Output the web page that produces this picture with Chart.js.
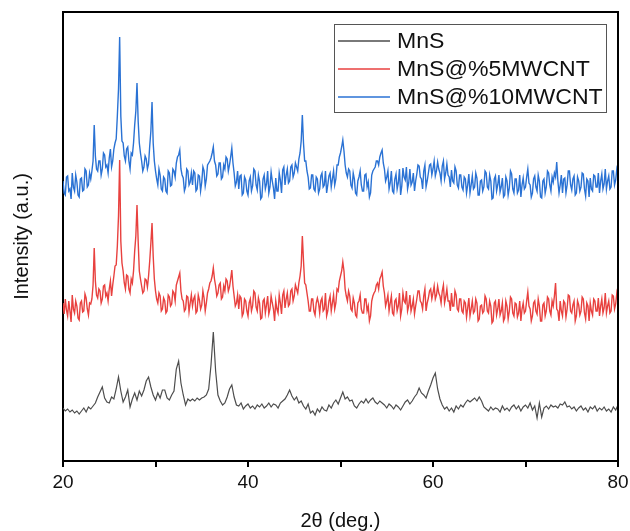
<!DOCTYPE html>
<html>
<head>
<meta charset="utf-8">
<script src="https://cdn.jsdelivr.net/npm/chart.js@4/dist/chart.umd.min.js"></script>
<style>
  html, body { margin: 0; padding: 0; background: #fff; }
  #wrap { width: 630px; height: 531px; }
</style>
</head>
<body>
<div id="wrap"><canvas id="xrdChart" width="630" height="531"></canvas></div>
<script>
// 2theta grids start at 20 deg; MnS read every 0.25 deg, composites every 0.125 deg
const startAngle = 20;
const mnSStep = 0.25;
const compositeStep = 0.125;
const xTickLabels = [20, 40, 60, 80];
const seriesNames = ['MnS', 'MnS@%5MWCNT', 'MnS@%10MWCNT'];

// intensities (a.u., stacking offsets already in the values)
const mnS = [
  53, 50, 52, 49,  51, 48, 50, 47,  50, 53, 49, 54,  52, 55, 58, 64,
  69, 74, 63, 59,  58, 64, 62, 72,  84, 70, 59, 64,  71, 54, 62, 68,
  61, 70, 65, 71,  80, 84, 74, 66,  61, 68, 63, 71,  71, 63, 61, 66,
  70, 92, 100, 78, 66, 56, 62, 60,  62, 60, 63, 61,  63, 64, 66, 72,
  96, 129, 90, 66, 60, 56, 58, 64,  72, 76, 64, 56,  55, 58, 52, 55,
  57, 53, 55, 52,  56, 54, 57, 53,  55, 58, 54, 57,  56, 53, 58, 60,
  62, 66, 71, 65,  61, 64, 58, 60,  55, 52, 57, 48,  50, 46, 52, 49,
  54, 51, 50, 56,  53, 58, 61, 57,  63, 69, 62, 64,  60, 61, 55, 53,
  57, 60, 58, 62,  58, 61, 63, 59,  57, 60, 58, 56,  53, 57, 55, 52,
  56, 54, 51, 55,  59, 61, 57, 60,  64, 67, 73, 68,  66, 63, 70, 76,
  83, 88, 72, 62,  56, 52, 54, 50,  53, 49, 55, 52,  56, 54, 58, 61,
  59, 61, 63, 60,  64, 60, 54, 52,  50, 54, 51, 53,  52, 49, 55, 51,
  53, 50, 54, 56,  52, 55, 50, 54,  56, 53, 58, 51,  55, 43, 58, 44,
  53, 55, 52, 56,  54, 55, 53, 57,  56, 59, 54, 55,  52, 54, 50, 53,
  55, 51, 53, 49,  54, 52, 55, 50,  53, 51, 54, 50,  52, 49, 54, 51,
  56
];

const mnS5 = [
  158, 147, 162, 151, 145, 160, 150, 139,  166, 152, 148, 160, 155, 143, 141, 158,
  160, 149, 150, 167, 163, 152, 146, 158,  157, 162, 176, 213, 180, 166, 163, 172,
  170, 158, 162, 175, 176, 165, 168, 160,  172, 180, 165, 176, 185, 195, 196, 215,
  245, 301, 220, 198, 190, 178, 172, 186,  185, 172, 168, 182, 178, 190, 210, 225,
  256, 220, 190, 182, 175, 168, 170, 182,  181, 174, 185, 200, 218, 238, 205, 182,
  170, 162, 158, 168, 165, 150, 152, 163,  160, 148, 150, 166, 164, 155, 157, 170,
  168, 160, 176, 180, 184, 188, 170, 162,  160, 150, 152, 165, 164, 149, 158, 166,
  155, 162, 165, 148, 150, 166, 161, 152,  156, 170, 163, 150, 158, 168, 172, 178,
  180, 185, 193, 182, 175, 165, 168, 176,  178, 162, 164, 175, 170, 182, 180, 170,
  174, 182, 191, 175, 165, 155, 158, 166,  152, 165, 163, 145, 148, 162, 160, 150,
  145, 158, 162, 150, 155, 170, 168, 154,  150, 163, 158, 142, 143, 160, 162, 148,
  156, 165, 147, 152, 165, 158, 152, 140,  160, 152, 148, 166, 158, 147, 166, 170,
  153, 162, 168, 155, 157, 170, 172, 160,  165, 176, 172, 168, 178, 185, 195, 225,
  200, 178, 176, 168, 160, 150, 150, 162,  162, 150, 146, 158, 163, 158, 148, 160,
  163, 150, 152, 168, 145, 150, 160, 165,  150, 158, 166, 152, 158, 172, 170, 180,
  185, 190, 199, 190, 172, 165, 160, 170,  165, 152, 150, 163, 158, 146, 144, 158,
  160, 166, 152, 148, 148, 162, 162, 150,  155, 140, 145, 160, 165, 168, 170, 176,
  178, 172, 182, 185, 189, 175, 168, 155,  160, 166, 150, 158, 165, 148, 146, 160,
  162, 150, 155, 168, 145, 152, 168, 160,  158, 170, 150, 155, 166, 150, 155, 162,
  147, 155, 162, 170, 170, 160, 158, 152,  165, 172, 150, 158, 163, 170, 172, 162,
  168, 175, 162, 166, 175, 168, 165, 158,  170, 176, 158, 164, 172, 160, 160, 150,
  168, 155, 155, 170, 166, 152, 150, 162,  162, 150, 148, 160, 158, 144, 153, 163,
  145, 152, 160, 148, 150, 162, 158, 140,  142, 155, 156, 148, 150, 165, 162, 150,
  148, 160, 155, 138, 140, 158, 160, 146,  152, 162, 146, 150, 158, 140, 143, 160,
  155, 142, 150, 164, 162, 148, 145, 158,  157, 144, 148, 160, 140, 152, 158, 148,
  150, 160, 169, 155, 152, 140, 145, 158,  160, 150, 147, 162, 155, 140, 140, 156,
  158, 145, 150, 164, 162, 150, 146, 160,  155, 165, 178, 152, 150, 140, 160, 150,
  145, 160, 158, 144, 152, 166, 165, 150,  148, 156, 160, 140, 145, 160, 156, 146,
  150, 164, 162, 148, 142, 158, 155, 140,  158, 150, 146, 162, 160, 150, 150, 163,
  145, 155, 162, 148, 153, 168, 148, 155,  160, 148, 150, 166, 165, 152, 157, 168,
  162
];

const mnS10 = [
  280, 268, 266, 284, 285, 270, 272, 262,  288, 274, 270, 286, 279, 266, 264, 282,
  283, 270, 271, 292, 290, 274, 276, 288,  282, 290, 300, 336, 305, 292, 290, 300,
  300, 286, 292, 308, 306, 294, 296, 288,  303, 312, 294, 300, 312, 318, 322, 345,
  372, 424, 345, 320, 318, 305, 300, 312,  314, 300, 292, 308, 306, 318, 336, 350,
  378, 340, 318, 308, 300, 290, 294, 305,  302, 292, 297, 315, 330, 359, 318, 300,
  290, 282, 276, 292, 286, 272, 270, 284,  282, 270, 268, 290, 288, 275, 276, 292,
  290, 284, 298, 304, 306, 311, 292, 286,  283, 270, 274, 292, 290, 276, 279, 288,
  276, 290, 288, 270, 272, 286, 285, 270,  279, 294, 290, 275, 282, 296, 298, 300,
  303, 308, 314, 300, 296, 285, 287, 298,  298, 282, 284, 296, 292, 304, 302, 290,
  296, 304, 313, 298, 288, 275, 279, 290,  272, 285, 286, 266, 268, 284, 281, 270,
  266, 280, 284, 270, 275, 292, 290, 276,  271, 286, 280, 262, 264, 282, 286, 272,
  277, 290, 268, 274, 289, 280, 273, 262,  283, 270, 270, 288, 281, 268, 291, 294,
  276, 286, 292, 278, 280, 294, 296, 284,  288, 298, 294, 290, 302, 308, 320, 346,
  318, 300, 300, 290, 284, 272, 273, 286,  286, 272, 270, 284, 282, 268, 272, 285,
  288, 274, 276, 290, 268, 276, 285, 288,  274, 282, 290, 276, 282, 296, 296, 304,
  308, 314, 321, 310, 296, 288, 284, 292,  290, 276, 273, 288, 282, 268, 266, 280,
  284, 290, 276, 270, 270, 286, 287, 274,  279, 264, 268, 286, 290, 292, 294, 300,
  300, 296, 304, 308, 311, 298, 292, 280,  284, 290, 272, 278, 290, 270, 268, 282,
  287, 272, 278, 292, 266, 275, 293, 284,  281, 294, 272, 278, 292, 276, 279, 288,
  270, 280, 287, 296, 295, 284, 282, 272,  290, 296, 274, 280, 288, 296, 297, 286,
  292, 300, 285, 290, 299, 292, 288, 280,  295, 300, 282, 288, 297, 286, 284, 274,
  291, 280, 278, 294, 290, 276, 273, 286,  286, 274, 271, 284, 282, 268, 276, 287,
  268, 276, 285, 272, 274, 288, 283, 266,  266, 280, 281, 270, 274, 290, 288, 274,
  272, 286, 280, 262, 263, 282, 285, 270,  276, 286, 269, 274, 283, 264, 266, 284,
  280, 266, 273, 290, 287, 272, 268, 282,  282, 268, 271, 286, 264, 276, 283, 272,
  274, 284, 292, 278, 276, 264, 268, 282,  285, 274, 270, 286, 280, 264, 263, 280,
  282, 268, 274, 290, 288, 276, 270, 284,  279, 288, 284, 299, 280, 268, 276, 286,
  268, 282, 283, 268, 276, 290, 290, 276,  271, 282, 285, 266, 268, 284, 280, 270,
  274, 288, 287, 272, 265, 282, 280, 264,  283, 272, 270, 286, 285, 274, 274, 288,
  268, 280, 287, 272, 277, 292, 272, 280,  285, 272, 274, 290, 290, 276, 281, 292,
  287
];

const seriesColors = ['#4d4d4d', '#e8413f', '#2a72d4'];

function toPoints(values, step) {
  return values.map((v, i) => ({ x: startAngle + i * step, y: v }));
}

const fontFamily = '"Liberation Sans", Arial, sans-serif';

// top + right sides of the frame
const framePlugin = {
  id: 'frame',
  afterDraw(chart) {
    const { ctx, chartArea } = chart;
    ctx.save();
    ctx.strokeStyle = '#000';
    ctx.lineWidth = 2;
    ctx.beginPath();
    ctx.moveTo(chartArea.left, chartArea.top);
    ctx.lineTo(chartArea.right, chartArea.top);
    ctx.lineTo(chartArea.right, chartArea.bottom);
    ctx.stroke();
    ctx.restore();
  }
};

// boxed legend in the top right corner
const boxLegendPlugin = {
  id: 'boxLegend',
  afterDraw(chart) {
    const ctx = chart.ctx;
    const box = { x: 334, y: 24, w: 272, h: 88 };
    ctx.save();
    ctx.fillStyle = '#fff';
    ctx.fillRect(box.x, box.y, box.w, box.h);
    ctx.strokeStyle = '#555';
    ctx.lineWidth = 1;
    ctx.strokeRect(box.x + 0.5, box.y + 0.5, box.w, box.h);
    ctx.font = '22px ' + fontFamily;
    ctx.textBaseline = 'middle';
    chart.data.datasets.forEach((ds, i) => {
      const rowY = box.y + 17 + i * 28;
      ctx.strokeStyle = ds.borderColor;
      ctx.lineWidth = 1.3;
      ctx.beginPath();
      ctx.moveTo(box.x + 4, rowY);
      ctx.lineTo(box.x + 56, rowY);
      ctx.stroke();
      ctx.save();
      ctx.translate(box.x + 63, rowY + 1);
      ctx.scale(1.05, 1);
      ctx.fillStyle = '#111';
      ctx.fillText(ds.label, 0, 0);
      ctx.restore();
    });
    ctx.restore();
  }
};

const ctx = document.getElementById('xrdChart').getContext('2d');
new Chart(ctx, {
  type: 'line',
  data: {
    datasets: [
      { label: seriesNames[0], data: toPoints(mnS, mnSStep), borderColor: seriesColors[0], borderWidth: 1.2 },
      { label: seriesNames[1], data: toPoints(mnS5, compositeStep), borderColor: seriesColors[1], borderWidth: 1.4 },
      { label: seriesNames[2], data: toPoints(mnS10, compositeStep), borderColor: seriesColors[2], borderWidth: 1.4 }
    ]
  },
  options: {
    responsive: false,
    animation: false,
    events: [],
    elements: { point: { radius: 0 }, line: { tension: 0 } },
    layout: { padding: { top: 12, right: 12, left: 0, bottom: 0 } },
    plugins: { legend: { display: false }, tooltip: { enabled: false } },
    scales: {
      x: {
        type: 'linear',
        min: 20,
        max: 80,
        afterFit(scale) {
          scale.height = 70;
          scale.paddingRight = 0;
          scale.paddingLeft = 0;
        },
        ticks: {
          stepSize: 10,
          autoSkip: false,
          maxRotation: 0,
          padding: 4,
          color: '#111',
          font: { family: fontFamily, size: 19 },
          callback: v => (xTickLabels.includes(v) ? String(v) : '')
        },
        grid: { drawOnChartArea: false, drawTicks: true, tickLength: 6, color: '#000', lineWidth: 2 },
        border: { display: true, color: '#000', width: 2 },
        title: {
          display: true,
          text: '2θ (deg.)',
          color: '#111',
          font: { family: fontFamily, size: 20, lineHeight: 1 },
          padding: { top: 0, bottom: 0 }
        }
      },
      y: {
        min: 0,
        max: 449,
        afterFit(scale) { scale.width = 63; },
        ticks: { display: false },
        grid: { display: false, drawTicks: false },
        border: { display: true, color: '#000', width: 2 },
        title: {
          display: true,
          text: 'Intensity (a.u.)',
          color: '#111',
          font: { family: fontFamily, size: 20 },
          padding: { top: 10, bottom: 0 }
        }
      }
    }
  },
  plugins: [framePlugin, boxLegendPlugin]
});
</script>
</body>
</html>
